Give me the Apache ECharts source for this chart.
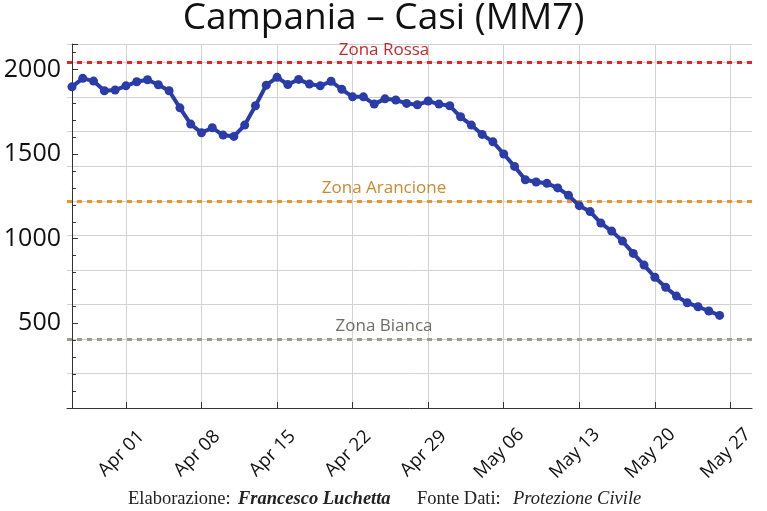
<!DOCTYPE html>
<html>
<head>
<meta charset="utf-8">
<script src="https://cdn.jsdelivr.net/npm/echarts@6/dist/echarts.min.js"></script>
<style>
html,body{margin:0;padding:0;background:#fff;}
#chart{width:767px;height:511px;}
</style>
</head>
<body>
<div id="chart"></div>
<script>
// ---- data ----
const dates = [
  '2021-03-27','2021-03-28','2021-03-29','2021-03-30','2021-03-31',
  '2021-04-01','2021-04-02','2021-04-03','2021-04-04','2021-04-05','2021-04-06','2021-04-07','2021-04-08','2021-04-09','2021-04-10',
  '2021-04-11','2021-04-12','2021-04-13','2021-04-14','2021-04-15','2021-04-16','2021-04-17','2021-04-18','2021-04-19','2021-04-20',
  '2021-04-21','2021-04-22','2021-04-23','2021-04-24','2021-04-25','2021-04-26','2021-04-27','2021-04-28','2021-04-29','2021-04-30',
  '2021-05-01','2021-05-02','2021-05-03','2021-05-04','2021-05-05','2021-05-06','2021-05-07','2021-05-08','2021-05-09','2021-05-10',
  '2021-05-11','2021-05-12','2021-05-13','2021-05-14','2021-05-15','2021-05-16','2021-05-17','2021-05-18','2021-05-19','2021-05-20',
  '2021-05-21','2021-05-22','2021-05-23','2021-05-24','2021-05-25','2021-05-26'
];
const cases = [
  1897,1947,1931,1874,1878,1903,1927,1939,1909,1874,
  1773,1677,1626,1655,1612,1604,1671,1785,1907,1953,
  1911,1941,1913,1903,1930,1882,1838,1838,1795,1826,
  1819,1799,1791,1813,1795,1785,1720,1671,1616,1572,
  1500,1427,1348,1335,1327,1300,1256,1195,1160,1092,
  1045,986,913,844,772,713,661,622,598,573,547
];
const tickDates = ['2021-04-01','2021-04-08','2021-04-15','2021-04-22','2021-04-29','2021-05-06','2021-05-13','2021-05-20','2021-05-27'];
const tickLabels = ['Apr 01','Apr 08','Apr 15','Apr 22','Apr 29','May 06','May 13','May 20','May 27'];
const yTickLabels = ['500','1000','1500','2000'];
const zoneNames = ['Zona Rossa','Zona Arancione','Zona Bianca'];
const zoneValues = [2040,1224,408];
const zoneLineColors = ['#e3262b','#f0922a','#9c9c8c'];
const zoneTextColors = ['#c42a2e','#c98a2e','#6e6e62'];
const gridStep = 204;

// ---- build ----
const DAY = 86400000;
const t0 = Date.UTC(2021, 2, 27);
const dayIdx = s => { const p = s.split('-').map(Number); return Math.round((Date.UTC(p[0], p[1] - 1, p[2]) - t0) / DAY); };
const tickPos = tickDates.map(dayIdx);
const seriesData = dates.map((d, i) => [dayIdx(d), cases[i]]);
const fontSans = '"Open Sans", "Noto Sans", sans-serif';
const fontSerif = '"Liberation Serif", "DejaVu Serif", serif';

const chart = echarts.init(document.getElementById('chart'));
chart.setOption({
  animation: false,
  backgroundColor: '#fff',
  title: {
    text: 'Campania – Casi (MM7)',
    left: 'center', top: -5,
    textStyle: {fontFamily: fontSans, fontSize: 37, fontWeight: 'normal', color: '#111'}
  },
  grid: {left: 67, right: 15, top: 44, bottom: 103},
  xAxis: {
    type: 'value',
    min: -0.46,
    max: 63,
    axisLine: {show: true, lineStyle: {color: '#333', width: 1}},
    axisTick: {show: true, inside: true, length: 6, customValues: tickPos, lineStyle: {color: '#333'}},
    axisLabel: {
      customValues: tickPos,
      formatter: v => { const k = tickPos.indexOf(Math.round(v)); return k >= 0 ? tickLabels[k] : ''; },
      rotate: 45, align: 'center', verticalAlign: 'middle', margin: 41, padding: [0, 13, 0, 0],
      fontFamily: fontSans, fontSize: 18.5, color: '#111'
    },
    splitLine: {show: true, lineStyle: {color: '#d2d2d2', width: 1}}
  },
  yAxis: [{
    type: 'value', min: 0, max: 2150, interval: 500,
    axisLine: {show: true, lineStyle: {color: '#333', width: 1}},
    axisTick: {show: true, inside: true, length: 6, lineStyle: {color: '#333'}},
    minorTick: {show: true, splitNumber: 5, length: 4, lineStyle: {color: '#333'}},
    axisLabel: {
      fontFamily: fontSans, fontSize: 25, color: '#111', margin: 6,
      formatter: v => yTickLabels.indexOf(String(v)) >= 0 ? String(v) : ''
    },
    splitLine: {show: false}
  }, {
    type: 'value', min: 0, max: 2150, interval: gridStep, position: 'right',
    axisLine: {show: false}, axisTick: {show: false}, axisLabel: {show: false},
    splitLine: {show: true, lineStyle: {color: '#d2d2d2', width: 1}}
  }],
  series: [{
    type: 'line',
    yAxisIndex: 0,
    data: seriesData,
    symbol: 'circle',
    symbolSize: 9,
    lineStyle: {color: '#2a3ca8', width: 4},
    itemStyle: {color: '#2a3ca8'},
    z: 5,
    markLine: {
      silent: true,
      symbol: ['none', 'none'],
      z: 3,
      data: zoneValues.map((v, i) => ({
        yAxis: v,
        name: zoneNames[i],
        lineStyle: {color: zoneLineColors[i], type: [5, 5], width: 3},
        label: {
          show: true, formatter: '{b}', position: 'insideStartTop', align: 'center',
          distance: [317, 4], color: zoneTextColors[i], fontFamily: fontSans, fontSize: 17
        }
      }))
    }
  }],
  graphic: [
    {type: 'text', left: 128, top: 490, style: {text: 'Elaborazione:', font: '18.5px ' + fontSerif, fill: '#222'}},
    {type: 'text', left: 238, top: 490, style: {text: 'Francesco Luchetta', font: 'italic bold 18.5px ' + fontSerif, fill: '#222'}},
    {type: 'text', left: 417, top: 490, style: {text: 'Fonte Dati:', font: '18.5px ' + fontSerif, fill: '#222'}},
    {type: 'text', left: 513, top: 490, style: {text: 'Protezione Civile', font: 'italic 18.5px ' + fontSerif, fill: '#222'}}
  ]
});
</script>
</body>
</html>
